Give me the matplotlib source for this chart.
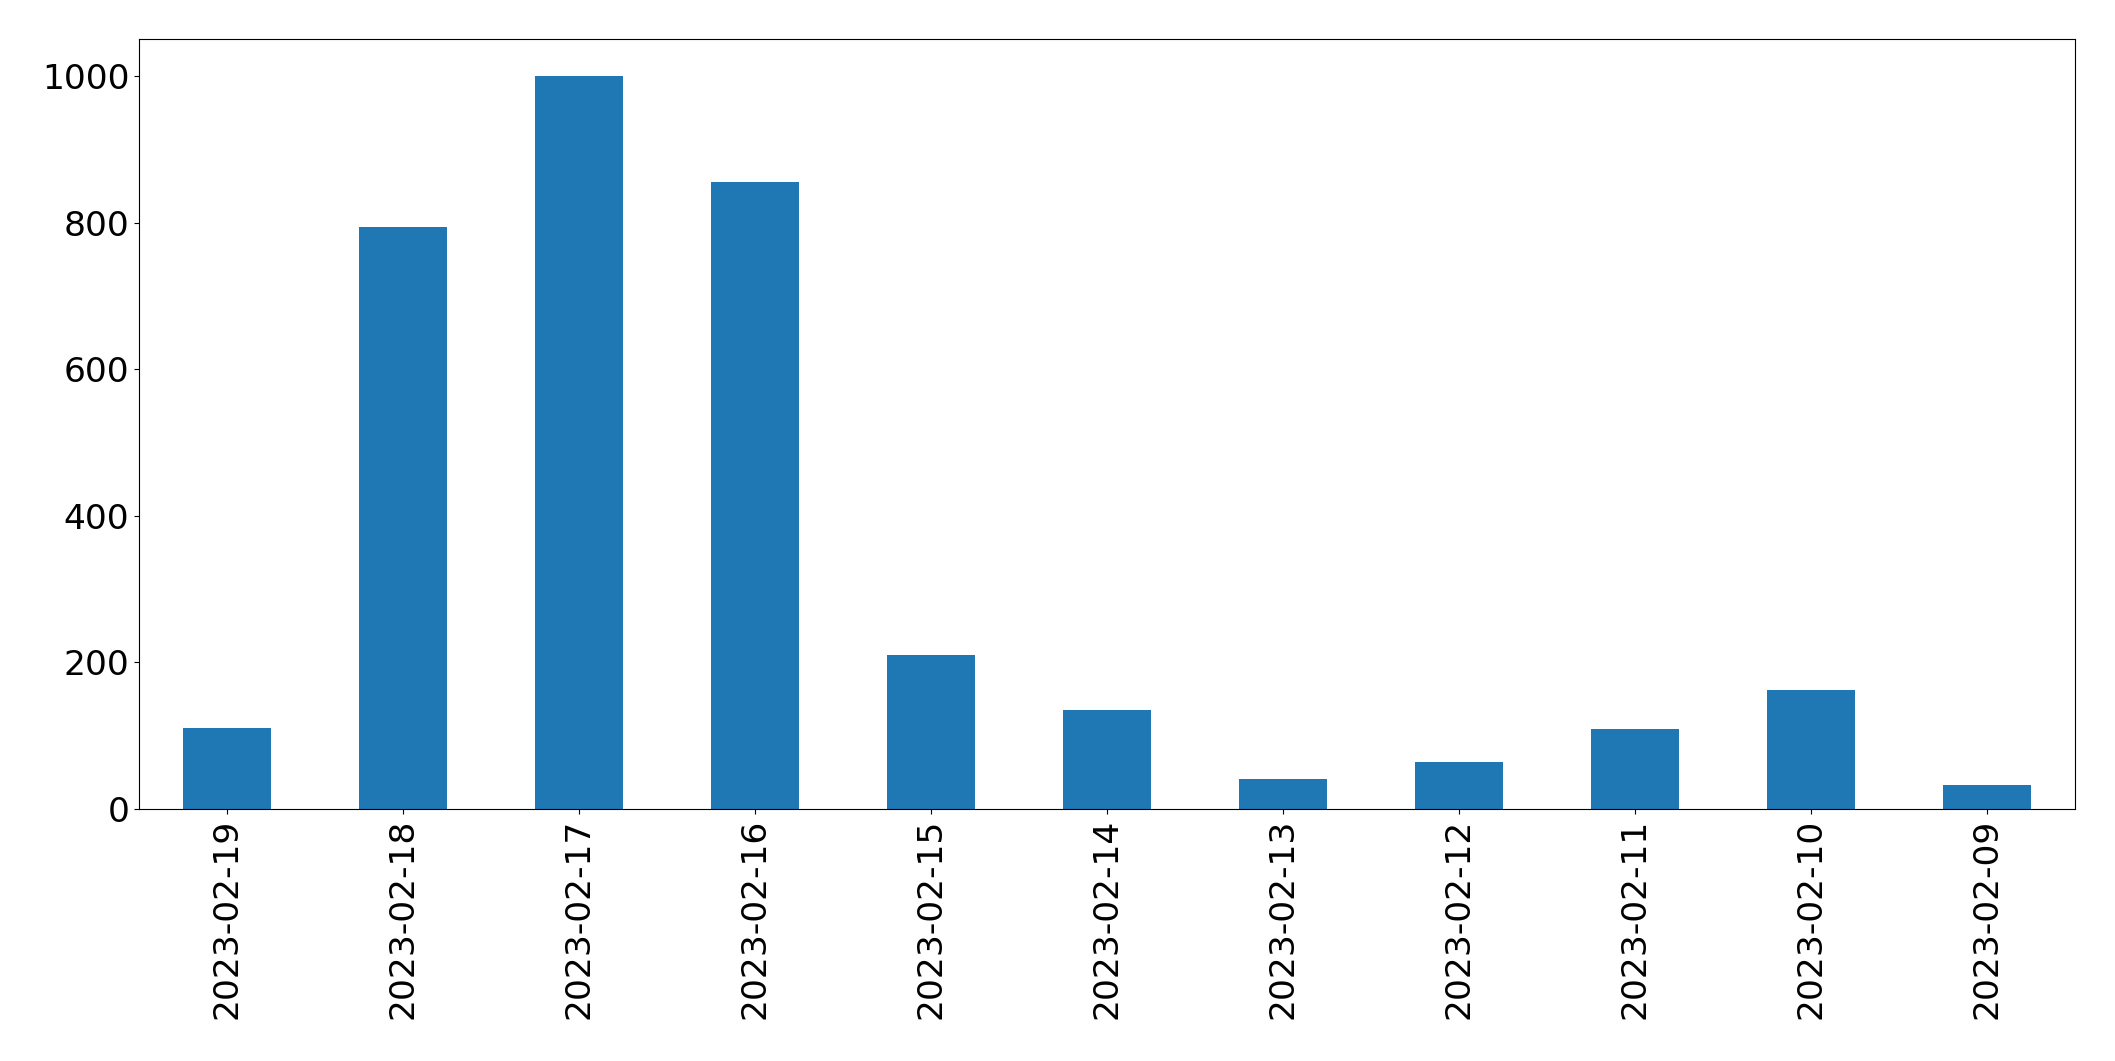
import matplotlib
matplotlib.use("Agg")
import matplotlib.pyplot as plt

dates = ["2023-02-19", "2023-02-18", "2023-02-17", "2023-02-16", "2023-02-15",
         "2023-02-14", "2023-02-13", "2023-02-12", "2023-02-11", "2023-02-10",
         "2023-02-09"]
counts = [111, 794, 1001, 856, 210, 135, 41, 64, 109, 162, 33]

fig = plt.figure(figsize=(21.15, 10.61), dpi=100)
ax = fig.add_axes([139 / 2115, 1 - 809 / 1061, (2075 - 139) / 2115, (809 - 39) / 1061])

x = list(range(len(dates)))
ax.bar(x, counts, width=0.5, color="#1f77b4")
ax.set_xlim(-0.5, len(dates) - 0.5)
ax.set_ylim(0, max(counts) * 1.05)
ax.set_xticks(x)
ax.set_xticklabels(dates, rotation=90, fontsize=24.8)
ax.set_yticks([0, 200, 400, 600, 800, 1000])
ax.tick_params(axis="y", labelsize=24.8)

fig.savefig("out.png", dpi=100)
